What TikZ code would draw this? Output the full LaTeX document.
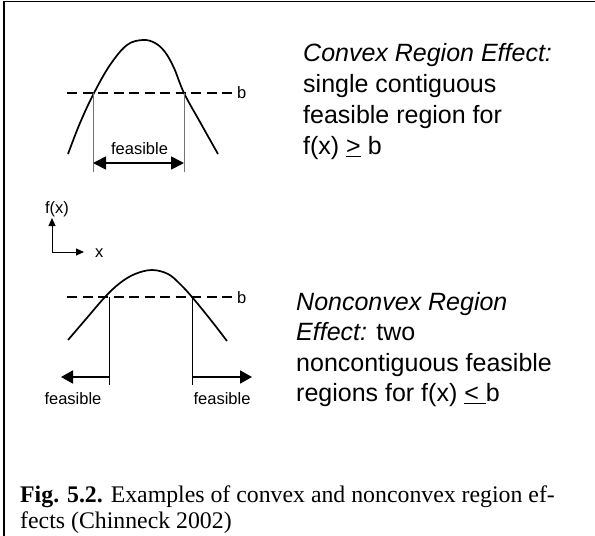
\documentclass[tikz,border=0pt]{standalone}
\usepackage{fontspec}
\setmainfont{Liberation Serif}
\newfontfamily\arialf{Liberation Sans}
\usetikzlibrary{arrows.meta}
\tikzset{
  curve/.style={line width=1.7pt, line join=round},
  dashline/.style={line width=2.4pt, dash pattern=on 10pt off 5.5pt},
  guide/.style={line width=0.9pt, draw=black!55},
  guideblk/.style={line width=0.9pt, draw=black},
  farrow/.style={line width=1.8pt, {Triangle[length=13pt,width=13pt]}-{Triangle[length=13pt,width=13pt]}},
  rarrow/.style={line width=1.8pt, -{Triangle[length=12pt,width=13pt]}},
  axisarrow/.style={line width=0.9pt, -{Triangle[length=8pt,width=7pt]}},
  smalltext/.style={font=\arialf\fontsize{16.5}{19}\selectfont, inner sep=0pt},
  bigtext/.style={font=\arialf\fontsize{25}{31}\selectfont, inner sep=0pt, anchor=base west},
  captext/.style={font=\fontsize{23.8}{26}\selectfont, inner sep=0pt, anchor=base west},
  frameline/.style={line width=1.8pt}
}
\begin{document}
\begin{tikzpicture}[x=1pt,y=-1pt]
\useasboundingbox (0,0) rectangle (595,536);
% frame
\coordinate (fTL) at (4,1.5);
\coordinate (fTR) at (595,1.5);
\coordinate (fBL) at (4,536);
\draw[frameline] (fBL) -- (fTL) -- (fTR);

% ---------- upper (convex) diagram ----------
\draw[curve] plot[smooth, tension=0.6] coordinates {(68,154) (80,123) (94,93) (110,65) (127,45) (143,40) (155,43) (165,52) (174,68) (184,93) (200,122) (218,154)};
\coordinate (ud1) at (67,93);
\coordinate (ud2) at (235,93);
\draw[dashline] (ud1) -- (ud2);
\node[smalltext, anchor=base west] (ub) at (237,98) {b};
\coordinate (uv1t) at (93,93);
\coordinate (uv1b) at (93,172);
\coordinate (uv2t) at (184,93);
\coordinate (uv2b) at (184,172);
\draw[guide] (uv1t) -- (uv1b);
\draw[guide] (uv2t) -- (uv2b);
\coordinate (ua1) at (93,163);
\coordinate (ua2) at (184,163);
\draw[farrow] (ua1) -- (ua2);
\node[smalltext, anchor=base] (ufeas) at (139.5,154) {feasible};

% ---------- axes icon ----------
\coordinate (ax0) at (52,252);
\coordinate (axy) at (52,218);
\coordinate (axx) at (84,252);
\draw[axisarrow] (ax0) -- (axy);
\draw[axisarrow] (ax0) -- (axx);
\node[smalltext, anchor=base] (fxlab) at (57,213) {f(x)};
\node[smalltext, anchor=base west] (xlab) at (95,257) {x};

% ---------- lower (nonconvex) diagram ----------
\draw[curve] plot[smooth, tension=0.6] coordinates {(68,340) (86,319) (105,297) (120,283) (135,274) (152,270) (168,274) (180,284) (192,297) (210,319) (227,341)};
\coordinate (ld1) at (67,297);
\coordinate (ld2) at (235,297);
\draw[dashline] (ld1) -- (ld2);
\node[smalltext, anchor=base west] (lb) at (237,303) {b};
\coordinate (lv1t) at (109,297);
\coordinate (lv1b) at (109,385);
\coordinate (lv2t) at (192,297);
\coordinate (lv2b) at (192,385);
\draw[guideblk] (lv1t) -- (lv1b);
\draw[guideblk] (lv2t) -- (lv2b);
\coordinate (la1s) at (109,377);
\coordinate (la1e) at (61,377);
\coordinate (la2s) at (192,377);
\coordinate (la2e) at (252,377);
\draw[rarrow] (la1s) -- (la1e);
\draw[rarrow] (la2s) -- (la2e);
\node[smalltext, anchor=base] (lfeas1) at (73,404) {feasible};
\node[smalltext, anchor=base] (lfeas2) at (222,404) {feasible};

% ---------- right texts ----------
\node[bigtext] (t1) at (303,61.7) {\itshape Convex Region Effect:};
\node[bigtext] (t2) at (303,92.7) {single contiguous};
\node[bigtext] (t3) at (303,123.7) {feasible region for};
\node[bigtext] (t4) at (303,154.7) {f(x) \underline{>} b};

\node[bigtext] (s1) at (296,310) {\itshape Nonconvex Region};
\node[bigtext] (s2) at (296,340.5) {{\itshape Effect:} two};
\node[bigtext] (s3) at (296,371) {noncontiguous feasible};
\node[bigtext] (s4) at (296,401.5) {regions for f(x) \underline{<\ }b};

% ---------- caption ----------
\node[captext] (c1) at (20,502) {\textbf{Fig. 5.2.} Examples of convex and nonconvex region ef-};
\node[captext] (c2) at (20,528) {fects (Chinneck 2002)};
\end{tikzpicture}
\end{document}
